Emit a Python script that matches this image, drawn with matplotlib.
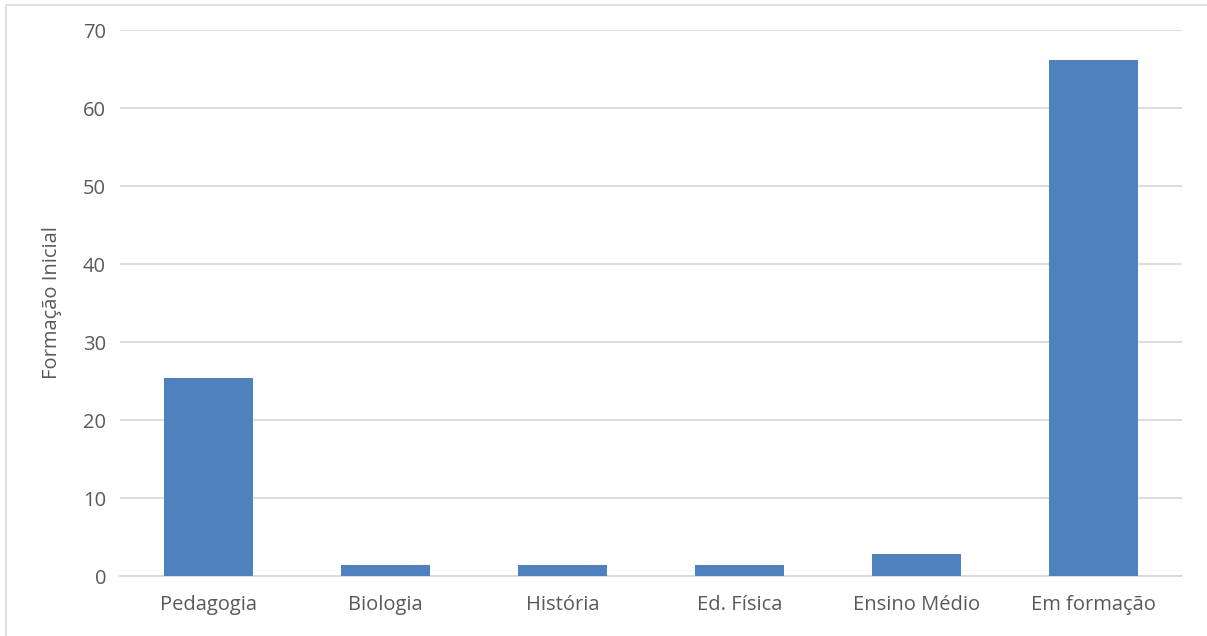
import matplotlib.pyplot as plt
from matplotlib.patches import Rectangle

categorias = ['Pedagogia', 'Biologia', 'História', 'Ed. Física', 'Ensino Médio', 'Em formação']
valores = [25.35, 1.41, 1.41, 1.41, 2.82, 66.2]

plt.rcParams['font.family'] = ['Open Sans', 'DejaVu Sans']

fig = plt.figure(figsize=(12.07, 6.36), dpi=100)
ax = fig.add_axes([0.0994, 0.0943, 0.8799, 0.8585])

x = range(len(categorias))
ax.bar(x, valores, width=0.5, color='#4f81bd', zorder=3)

ax.set_xlim(-0.5, len(categorias) - 0.5)
ax.set_ylim(0, 70)
ax.set_yticks(range(0, 71, 10))
ax.set_xticks(list(x))
ax.set_xticklabels(categorias)

ax.grid(axis='y', color='#d9d9d9', linewidth=1.3, zorder=0)
for s in ['top', 'right', 'left']:
    ax.spines[s].set_visible(False)
ax.spines['bottom'].set_color('#d9d9d9')
ax.spines['bottom'].set_linewidth(1.3)
ax.tick_params(axis='both', length=0, labelsize=14.5, colors='#595959')
ax.tick_params(axis='x', pad=14)
ax.tick_params(axis='y', pad=10)

ax.set_ylabel('Formação Inicial', fontsize=14.5, color='#595959', labelpad=15)

# moldura clara do gráfico
fig.patches.append(Rectangle((6 / 1207, -0.01), 1.02, 1 - 5 / 636 + 0.01,
                             transform=fig.transFigure, fill=False,
                             edgecolor='#d9d9d9', linewidth=1.2))

fig.savefig('out.png', dpi=100)
